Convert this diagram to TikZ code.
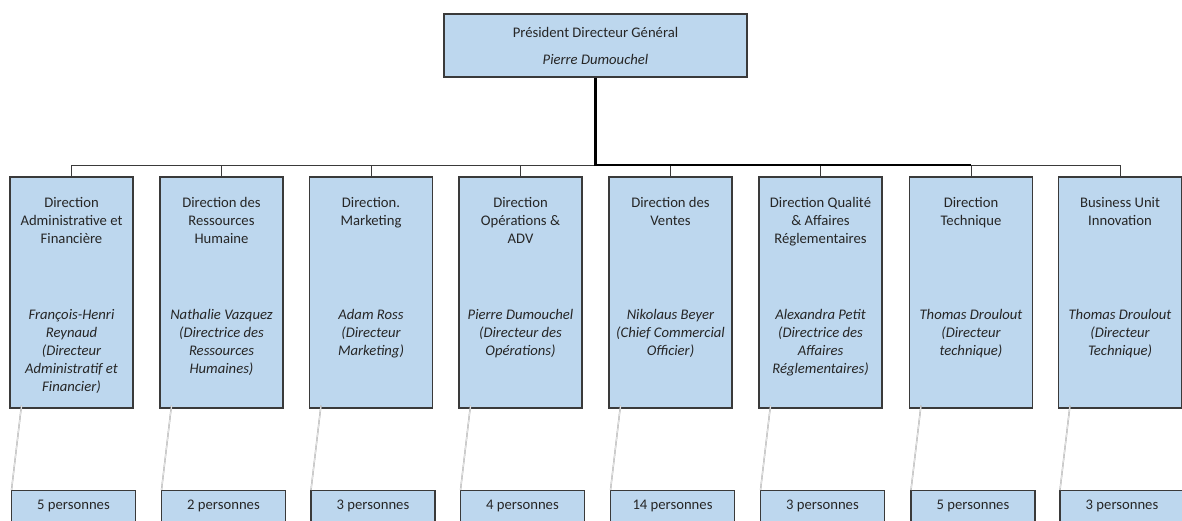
\documentclass[tikz,border=0pt]{standalone}
\usepackage{fontspec}
\setmainfont{Carlito}
\usepackage{xcolor}
\definecolor{orgfill}{HTML}{BDD7EE}
\definecolor{orgedge}{HTML}{3A3A3A}
\definecolor{orglink}{HTML}{A8A8A8}
\usetikzlibrary{calc}

\begin{document}
\begin{tikzpicture}[
  x=0.75pt,
  y=-0.75pt,
  every node/.style={font=\fontsize{11pt}{13.5pt}\selectfont, text=black!85},
  unitbox/.style={draw=orgedge, fill=orgfill, line width=0.8pt, inner sep=0pt,
    minimum width=92.25pt, minimum height=173.25pt},
  headbox/.style={draw=orgedge, fill=orgfill, line width=0.8pt,
    minimum width=227.25pt, minimum height=47.25pt, align=center},
  staffbox/.style={draw=orgedge, fill=orgfill, line width=0.8pt, inner sep=0pt,
    minimum width=93pt, minimum height=30pt},
  boxtext/.style={anchor=north, inner sep=0pt, align=center},
  wire/.style={draw=orgedge, line width=0.75pt},
  link/.style={draw=orglink, double=white, double distance=0.35pt, line width=0.35pt}
]
  \useasboundingbox (0,0) rectangle (1182,521);
  \coordinate (bus) at (0,165);

  \node[headbox] (pdg) at (595.5,45.5)
    {Président Directeur Général\\[6.75pt]\textit{Pierre Dumouchel}};

  \foreach \i/\cx/\title/\who/\staff in {
    1/71.5/{Direction\\Administrative et\\Financière}/{François-Henri\\Reynaud\\(Directeur\\Administratif et\\Financier)}/5,
    2/221.5/{Direction des\\Ressources\\Humaine}/{Nathalie Vazquez\\(Directrice des\\Ressources\\Humaines)}/2,
    3/371/{Direction.\\Marketing}/{Adam Ross\\(Directeur\\Marketing)}/3,
    4/520.5/{Direction\\Opérations \&\\ADV}/{Pierre Dumouchel\\(Directeur des\\Opérations)}/4,
    5/670.5/{Direction des\\Ventes}/{Nikolaus Beyer\\(Chief Commercial\\Officier)}/14,
    6/820.5/{Direction Qualité\\\& Affaires\\Réglementaires}/{Alexandra Petit\\(Directrice des\\Affaires\\Réglementaires)}/3,
    7/971/{Direction\\Technique}/{Thomas Droulout\\(Directeur\\technique)}/5,
    8/1120/{Business Unit\\Innovation}/{Thomas Droulout\\(Directeur\\Technique)}/3}
  {
    \node[unitbox] (d\i) at (\cx,292.5) {};
    \node[boxtext] (d\i t) at (\cx,197) {\title};
    \node[boxtext, font=\fontsize{11pt}{13.5pt}\selectfont\itshape] (d\i n) at (\cx,309) {\who};
    \node[staffbox, anchor=north] (p\i) at (\cx+2,490) {};
    \node (p\i t) at (\cx+2,506) {\staff\ personnes};
    \draw[wire] (d\i.north) -- (d\i.north |- bus);
    \draw[link] ([xshift=9pt]d\i.south west) -- ++(0,-3)
      -- ([xshift=0.4pt]p\i.north west);
  }

  \draw[wire] (d1.north |- bus) -- (d8.north |- bus);
  \draw[draw=black, line width=1.6pt] (pdg.south) -- (pdg.south |- bus)
    -- (d7.north |- bus);
\end{tikzpicture}
\end{document}
